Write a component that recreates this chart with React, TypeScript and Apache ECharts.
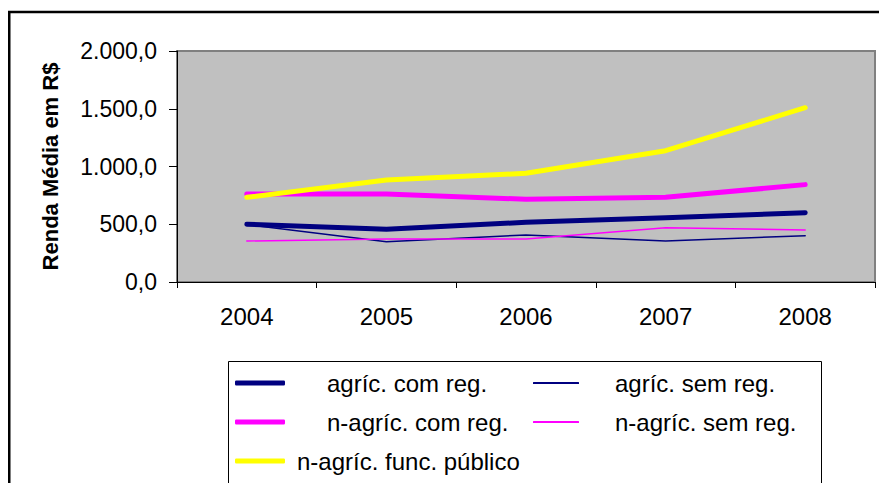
import React, { useEffect, useRef } from "react";
import * as echarts from "echarts";

const years = ["2004", "2005", "2006", "2007", "2008"];
const agricComReg = [500, 456, 517, 557, 600];
const agricSemReg = [497, 349, 407, 355, 401];
const nAgricComReg = [762, 762, 716, 733, 843];
const nAgricSemReg = [355, 372, 372, 470, 450];
const nAgricFuncPublico = [733, 883, 941, 1137, 1509];

const seriesNames = [
  "agríc. com reg.",
  "agríc. sem reg.",
  "n-agríc. com reg.",
  "n-agríc. sem reg.",
  "n-agríc. func. público",
];

const FONT = '"Liberation Sans", Arial, sans-serif';

function fmtBR(v: number): string {
  const s = v.toFixed(1);
  const [intPart, dec] = s.split(".");
  const withSep = intPart.replace(/\B(?=(\d{3})+(?!\d))/g, ".");
  return withSep + "," + dec;
}

export default function App() {
  const ref = useRef<HTMLDivElement>(null);
  useEffect(() => {
    document.body.style.margin = "0";
    if (!ref.current) return;
    const chart = echarts.init(ref.current, undefined, { renderer: "svg" });
    const colors = ["#000080", "#000080", "#FF00FF", "#FF00FF", "#FFFF00"];
    const widths = [5, 1.5, 5, 1.5, 5];
    const data = [agricComReg, agricSemReg, nAgricComReg, nAgricSemReg, nAgricFuncPublico];

    const legendItem = (
      idx: number,
      left: number,
      cy: number,
      iw: number,
      ih: number,
      gap: number
    ) => ({
      left,
      top: cy - 13,
      padding: 0,
      orient: "horizontal",
      itemWidth: iw,
      itemHeight: ih,
      selectedMode: false,
      icon: "roundRect",
      data: [{ name: seriesNames[idx], icon: "roundRect" }],
      textStyle: {
        fontFamily: FONT,
        fontSize: 24,
        color: "#000",
        lineHeight: 26,
        padding: [0, 0, 0, gap],
      },
    });

    chart.setOption({
      animation: false,
      backgroundColor: "#fff",
      textStyle: { fontFamily: FONT },
      grid: {
        left: 177,
        top: 51,
        right: 4,
        bottom: 201,
        show: true,
        backgroundColor: "#C0C0C0",
        borderColor: "#808080",
        borderWidth: 2,
        containLabel: false,
      },
      xAxis: {
        type: "category",
        data: years,
        boundaryGap: true,
        axisLine: { show: true, lineStyle: { color: "#000", width: 1 } },
        axisTick: { show: true, length: 6, lineStyle: { color: "#000" } },
        axisLabel: { fontFamily: FONT, fontSize: 24, color: "#000", margin: 22 },
        splitLine: { show: false },
      },
      yAxis: {
        type: "value",
        min: 0,
        max: 2000,
        interval: 500,
        name: "Renda Média em R$",
        nameLocation: "middle",
        nameGap: 116,
        nameTextStyle: { fontFamily: FONT, fontSize: 22, fontWeight: "bold", color: "#000" },
        axisLine: { show: true, lineStyle: { color: "#000", width: 1 } },
        axisTick: { show: true, length: 8, lineStyle: { color: "#000" } },
        axisLabel: {
          fontFamily: FONT,
          fontSize: 23,
          color: "#000",
          margin: 20,
          formatter: (v: number) => fmtBR(v),
        },
        splitLine: { show: false },
      },
      legend: [
        legendItem(0, 235, 383, 50, 5, 37),
        legendItem(1, 533, 383, 46, 2, 31),
        legendItem(2, 235, 422, 50, 5, 37),
        legendItem(3, 533, 422, 46, 2, 31),
        legendItem(4, 235, 461, 50, 5, 7),
      ],
      graphic: [
        {
          type: "rect",
          silent: true,
          shape: { x: 228.5, y: 361.5, width: 593, height: 200 },
          style: { fill: "none", stroke: "#000", lineWidth: 1 },
        },
        {
          type: "rect",
          silent: true,
          shape: { x: 9.25, y: 12, width: 900, height: 520 },
          style: { fill: "none", stroke: "#000", lineWidth: 2.5 },
        },
      ],
      series: data.map((d, i) => ({
        name: seriesNames[i],
        type: "line",
        data: d,
        symbol: "none",
        showSymbol: false,
        color: colors[i],
        itemStyle: { color: colors[i] },
        lineStyle: { color: colors[i], width: widths[i], cap: "round", join: "round" },
      })),
    });
    return () => chart.dispose();
  }, []);
  return <div ref={ref} style={{ width: 879, height: 483 }} />;
}
